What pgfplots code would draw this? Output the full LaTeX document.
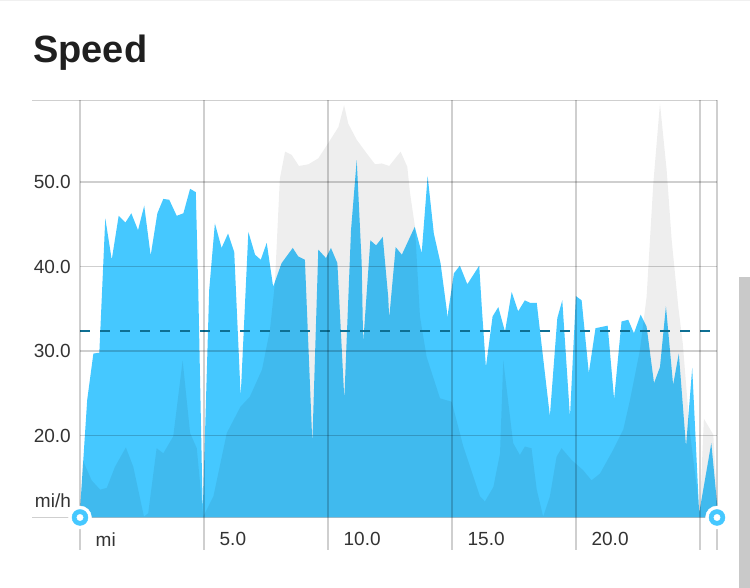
\documentclass[border=0pt]{standalone}
\usepackage{fontspec}
\setmainfont{Liberation Sans}
\usepackage{pgfplots}
\pgfplotsset{compat=1.18}
\definecolor{speedblue}{HTML}{45C8FF}
\definecolor{dashblue}{HTML}{0E6F93}
\definecolor{txt}{HTML}{333333}
\pgfplotstableread{
x y
0 10.3
0.02 12.0
0.29 24.2
0.54 29.7
0.78 29.8
1.02 45.7
1.28 40.8
1.56 46.0
1.83 45.2
2.07 46.3
2.34 44.3
2.59 47.2
2.85 41.3
3.12 46.3
3.36 48.0
3.60 47.9
3.90 46.0
4.17 46.3
4.44 49.2
4.67 48.8
4.77 37.2
4.95 10.9
5.21 37.2
5.44 45.1
5.71 42.2
5.97 43.9
6.22 41.7
6.48 24.6
6.79 44.1
7.06 41.4
7.29 40.8
7.53 42.8
7.79 37.6
8.13 40.4
8.58 42.2
8.80 41.2
9.07 40.8
9.37 19.1
9.61 42.0
9.92 41.0
10.12 42.2
10.38 40.4
10.66 24.3
10.93 44.3
11.16 52.6
11.36 40.4
11.42 30.9
11.71 43.1
11.94 42.5
12.21 43.5
12.43 36.4
12.47 33.9
12.73 42.3
12.98 41.4
13.50 44.7
13.78 41.6
14.02 50.7
14.27 43.9
14.54 40.4
14.79 34.9
14.81 33.9
15.08 39.2
15.32 40.1
15.62 37.9
16.10 40.1
16.21 34.9
16.37 28.1
16.64 34.1
16.87 35.2
17.14 32.3
17.41 37.0
17.67 34.7
17.94 36.0
18.15 35.7
18.42 35.7
18.95 22.3
19.25 33.9
19.45 36.0
19.76 22.2
20.00 36.5
20.23 36.0
20.52 27.4
20.79 32.7
21.28 33.0
21.54 24.3
21.84 33.5
22.11 33.7
22.34 32.1
22.61 34.3
22.85 32.9
23.15 26.2
23.39 28.1
23.63 35.3
23.92 26.0
24.15 29.7
24.44 18.7
24.69 28.0
24.97 10.8
25.46 19.1
25.69 12.0
25.69 10.3
}\speedtable
\pgfplotstableread{
x y
0 10.3
0.11 17.1
0.47 14.7
0.81 13.6
1.08 13.8
1.41 16.3
1.85 18.6
2.15 16.3
2.58 10.4
2.75 10.8
3.09 18.5
3.36 17.9
3.76 19.9
4.14 28.9
4.44 20.3
4.71 18.5
4.97 10.4
5.38 12.8
5.92 20.3
6.47 23.4
6.85 24.6
7.34 27.8
7.66 32.5
7.86 38.0
8.06 50.4
8.27 53.6
8.54 53.2
8.83 51.9
9.21 52.1
9.61 52.8
10.01 54.6
10.42 56.5
10.65 59.1
10.82 56.9
11.16 55.0
11.56 53.4
11.90 52.1
12.17 52.2
12.47 51.9
12.93 53.6
13.20 51.8
13.31 48.7
13.51 44.7
13.71 34.1
13.98 29.3
14.52 24.4
14.99 24.0
15.46 18.7
16.13 12.8
16.33 12.2
16.67 13.9
16.94 17.9
17.07 28.9
17.47 19.1
17.74 17.7
17.94 18.7
18.21 18.5
18.42 13.6
18.68 10.4
18.95 12.8
19.22 17.5
19.42 18.5
19.83 17.1
20.29 15.9
20.63 14.7
20.97 15.5
21.50 18.3
21.91 20.7
22.18 24.2
22.58 30.1
22.85 36.4
23.12 49.8
23.39 59.3
23.66 51.4
23.86 43.2
24.13 35.2
24.31 30.9
24.60 20.3
24.80 15.6
25.00 10.8
25.16 22.0
25.54 20.1
25.69 12.4
25.69 10.3
}\elevtable
\begin{document}
\begin{tikzpicture}[x=1pt,y=1pt]
\useasboundingbox (0,0) rectangle (750,588);
\fill[white] (0,0) rectangle (750,588);
\fill[black!6] (0,586.5) rectangle (750,588);
\fill[black!21] (739,0) rectangle (750,311);
\node[anchor=base west,inner sep=0pt,font=\fontsize{38}{38}\selectfont\bfseries,text=black!88] at (33,525) {Speed};
\begin{axis}[
  at={(80pt,70.5pt)},anchor=south west,
  scale only axis,width=637pt,height=417pt,
  xmin=0,xmax=25.69,ymin=10.3,ymax=59.65,
  clip mode=individual,
  axis line style={draw=none},
  major tick length=0pt,
  major tick style={draw=none},
  xtick={0,5,10,15,20,25},
  xticklabels={mi,5.0,10.0,15.0,20.0,{}},
  ytick={20,30,40,50},
  yticklabels={20.0,30.0,40.0,50.0},
  tick label style={font=\fontsize{19}{19}\selectfont,text=txt},
  x tick label style={anchor=north west,xshift=15.5pt,yshift=-15pt,inner sep=0pt},
  y tick label style={anchor=east,xshift=-9pt,inner sep=0pt},
]
\addplot[fill=speedblue,draw=none] table[x=x,y=y] {\speedtable} \closedcycle;
\addplot[fill=black,fill opacity=0.065,draw=none] table[x=x,y=y] {\elevtable} \closedcycle;
\addplot[dashblue,line width=2.4pt,dash pattern=on 10pt off 10pt] coordinates {(0,32.4) (25.4,32.4)};
\pgfplotsinvokeforeach{0,5,10,15,20,25,25.69}{
  \fill[black,opacity=0.19] ([xshift=-1.1pt]axis cs:#1,59.65) rectangle ([xshift=1.1pt,yshift=-32.5pt]axis cs:#1,10.3);
}
\pgfplotsinvokeforeach{20,30,40,50}{
  \fill[black,opacity=0.19] ([yshift=-0.9pt]axis cs:0,#1) rectangle ([yshift=0.9pt]axis cs:25.69,#1);
}
\fill[black,opacity=0.19] ([xshift=-48pt,yshift=-0.9pt]axis cs:0,10.3) rectangle ([yshift=0.9pt]axis cs:25.69,10.3);
\fill[black,opacity=0.19] ([xshift=-48pt,yshift=-0.9pt]axis cs:0,59.65) rectangle ([yshift=0.9pt]axis cs:25.69,59.65);
\node[anchor=east,inner sep=0pt,font=\fontsize{19}{19}\selectfont,text=txt] at (axis cs:-0.36,12.3) {mi/h};
\addplot[only marks,mark=*,mark size=11.5pt,mark options={fill=white,draw=white}] coordinates {(0,10.3) (25.69,10.3)};
\addplot[only marks,mark=*,mark size=8pt,mark options={fill=speedblue,draw=speedblue}] coordinates {(0,10.3) (25.69,10.3)};
\addplot[only marks,mark=*,mark size=3.2pt,mark options={fill=white,draw=white}] coordinates {(0,10.3) (25.69,10.3)};
\end{axis}
\end{tikzpicture}
\end{document}
